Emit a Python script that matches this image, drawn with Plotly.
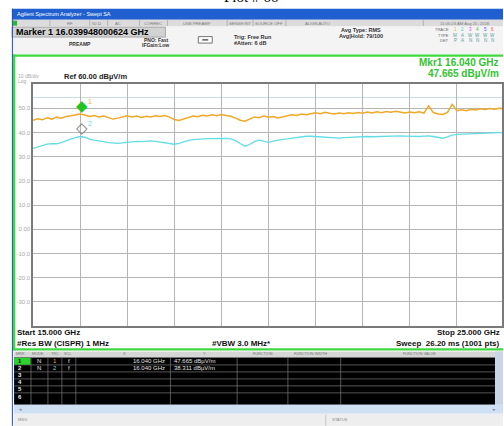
import plotly.graph_objects as go

# ---------------- data ----------------
freq_ghz = [15.0, 15.1, 15.2, 15.3, 15.4, 15.5, 15.6, 15.7, 15.8, 15.9,
            16.0, 16.1, 16.2, 16.3, 16.4, 16.5, 16.6, 16.7, 16.8, 16.9,
            17.0, 17.1, 17.2, 17.3, 17.4, 17.5, 17.6, 17.7, 17.8, 17.9,
            18.0, 18.1, 18.2, 18.3, 18.4, 18.5, 18.6, 18.7, 18.8, 18.9,
            19.0, 19.1, 19.2, 19.3, 19.4, 19.5, 19.6, 19.7, 19.8, 19.9,
            20.0, 20.1, 20.2, 20.3, 20.4, 20.5, 20.6, 20.7, 20.8, 20.9,
            21.0, 21.1, 21.2, 21.3, 21.4, 21.5, 21.6, 21.7, 21.8, 21.9,
            22.0, 22.1, 22.2, 22.3, 22.4, 22.5, 22.6, 22.7, 22.8, 22.9,
            23.0, 23.1, 23.2, 23.3, 23.4, 23.5, 23.6, 23.7, 23.8, 23.9,
            24.0, 24.1, 24.2, 24.3, 24.4, 24.5, 24.6, 24.7, 24.8, 24.9, 25.0]

trace1_peak = [45.0, 45.6, 45.2, 46.0, 45.5, 46.3, 45.9, 46.6, 46.9, 47.3,
               47.6, 47.2, 46.6, 47.0, 46.4, 46.8, 46.1, 45.5, 45.9, 46.5,
               46.9, 46.4, 46.8, 46.2, 46.7, 46.4, 46.9, 46.6, 47.0, 46.3,
               45.3, 44.9, 45.6, 46.4, 46.8, 46.5, 47.1, 46.8, 47.3, 46.9,
               47.4, 47.0, 46.7, 45.9, 45.0, 44.6, 45.5, 46.4, 46.1, 46.8,
               46.3, 46.6, 46.0, 46.5, 46.9, 47.3, 47.0, 47.6, 47.3, 47.8,
               48.1, 47.7, 48.3, 47.9, 47.6, 48.0, 47.7, 48.1, 47.8, 48.2,
               47.9, 48.4, 48.0, 48.5, 48.1, 48.6, 48.3, 48.7, 48.4, 48.0,
               48.4, 48.1, 48.5, 48.0, 51.0, 48.2, 47.6, 47.4, 48.3, 51.6,
               49.0, 49.4, 49.0, 49.6, 49.3, 49.8, 49.5, 49.9, 49.6, 50.0, 49.7]

trace2_avg = [33.4, 34.0, 34.6, 35.2, 35.4, 35.3, 35.8, 36.6, 37.2, 37.8,
              38.3, 38.0, 37.2, 36.8, 36.6, 36.2, 35.8, 35.6, 35.5, 35.7,
              36.0, 36.2, 36.3, 36.2, 36.4, 36.5, 36.3, 36.0, 35.6, 35.2,
              35.1, 35.5, 36.2, 36.7, 37.0, 37.2, 37.3, 37.4, 37.4, 37.5,
              37.6, 37.5, 37.3, 36.6, 35.4, 34.3, 35.0, 36.2, 36.8, 36.3,
              35.9, 36.4, 36.9, 37.1, 37.3, 37.6, 37.9, 38.2, 38.4, 38.4,
              38.3, 38.0, 37.8, 37.7, 37.6, 37.6, 37.8, 37.9, 38.1, 38.3,
              38.4, 38.3, 38.2, 38.3, 38.4, 38.5, 38.6, 38.7, 38.6, 38.5,
              38.4, 38.2, 38.3, 38.5, 38.6, 38.3, 37.9, 37.6, 38.2, 38.9,
              39.2, 39.3, 39.4, 39.5, 39.5, 39.6, 39.7, 39.7, 39.8, 39.9, 39.9]

marker_ids = ["1", "2"]
marker_freq_ghz = [16.040, 16.040]
marker_level = [47.665, 38.311]

y_tick_vals = [50, 40, 30, 20, 10, 0, -10, -20, -30]
y_tick_text = ["50.0", "40.0", "30.0", "20.0", "10.0", "0.00", "-10.0", "-20.0", "-30.0"]
x_grid_vals = [16, 17, 18, 19, 20, 21, 22, 23, 24]
display_line_db = 54.4

table_rows = ["1", "2", "3", "4", "5"]
table_mode = ["N", "N", "", "", ""]
table_trc = ["1", "2", "", "", ""]
table_scl = ["f", "f", "", "", ""]
table_x = ["16.040 GHz", "16.040 GHz", "", "", ""]
table_y = ["47.665 dBµV/m", "38.311 dBµV/m", "", "", ""]

# ---------------- geometry helpers ----------------
W, H = 504, 426
L, R, T, B = 33, 0, 83.5, 100
PW = W - L - R
PH = H - T - B
FONT = "Liberation Sans, Arial, sans-serif"

ORANGE = "#f0a828"
CYAN = "#62dde6"
GREEN = "#3fd93f"


def px(x):
    return (x - L) / PW


def py(y):
    return 1 - (y - T) / PH


shapes = []
annotations = []


def rect(x0, y0, x1, y1, fill, line=None, lw=0):
    shapes.append(dict(type="rect", xref="paper", yref="paper",
                       x0=px(x0), x1=px(x1), y0=py(y1), y1=py(y0),
                       fillcolor=fill, line=dict(color=line or fill, width=lw),
                       layer="above"))


def hline(x0, x1, y, color, w=1):
    shapes.append(dict(type="line", xref="paper", yref="paper",
                       x0=px(x0), x1=px(x1), y0=py(y), y1=py(y),
                       line=dict(color=color, width=w), layer="above"))


def vline(x, y0, y1, color, w=1):
    shapes.append(dict(type="line", xref="paper", yref="paper",
                       x0=px(x), x1=px(x), y0=py(y0), y1=py(y1),
                       line=dict(color=color, width=w), layer="above"))


def text(t, x, y, size=7, color="#000000", bold=False, xanchor="left",
         yanchor="middle", family=FONT):
    if bold:
        t = "<b>" + t + "</b>"
    annotations.append(dict(text=t, xref="paper", yref="paper", x=px(x), y=py(y),
                            xanchor=xanchor, yanchor=yanchor, showarrow=False,
                            font=dict(size=size, color=color, family=family)))


# ---------------- figure ----------------
fig = go.Figure()
fig.add_trace(go.Scatter(x=freq_ghz, y=trace2_avg, mode="lines",
                         line=dict(color=CYAN, width=1.3), hoverinfo="skip"))
fig.add_trace(go.Scatter(x=freq_ghz, y=trace1_peak, mode="lines",
                         line=dict(color=ORANGE, width=1.5), hoverinfo="skip"))

# display line
fig.add_shape(type="line", xref="x", yref="y", x0=freq_ghz[0], x1=freq_ghz[-1],
              y0=display_line_db, y1=display_line_db,
              line=dict(color="#c8dde0", width=1), layer="below")

# markers (diamond drawn above the trace point, like the analyzer)
fig.add_annotation(x=marker_freq_ghz[0], y=marker_level[0], xref="x", yref="y",
                   text="◆", showarrow=False, yanchor="bottom", yshift=-3,
                   font=dict(size=15, color="#22c322", family="DejaVu Sans"))
fig.add_annotation(x=marker_freq_ghz[1], y=marker_level[1], xref="x", yref="y",
                   text="◇", showarrow=False, yanchor="bottom", yshift=-3,
                   font=dict(size=15, color="#808080", family="DejaVu Sans"))
fig.add_annotation(x=marker_freq_ghz[0], y=marker_level[0], xref="x", yref="y",
                   text=marker_ids[0], showarrow=False, xanchor="left", yanchor="bottom",
                   xshift=4, yshift=7, font=dict(size=7, color=ORANGE, family=FONT))
fig.add_annotation(x=marker_freq_ghz[1], y=marker_level[1], xref="x", yref="y",
                   text=marker_ids[1], showarrow=False, xanchor="left", yanchor="bottom",
                   xshift=4, yshift=7, font=dict(size=7, color=CYAN, family=FONT))

# ---------- chrome ----------
# cropped page title
text("Plot # 66", 252, 6, size=15, color="#000000", xanchor="center", yanchor="bottom",
     family="Liberation Serif, Times New Roman, serif")

# title bar
rect(12, 8, 505, 19, "#1f5fd0")
text("Agilent Spectrum Analyzer - Swept SA", 15, 13.5, size=5.5, color="#ffffff")
# menu strip
rect(12, 19, 505, 26, "#dcdcdc")
rect(12.5, 20, 17, 25, "#2cb82c")
for sx in [50, 90, 108, 140, 168, 228, 254, 287, 425]:
    vline(sx, 19.5, 25.5, "#a8a8a8", 0.8)
for t_, x_ in [("RF", 70), ("50 Ω", 97), ("AC", 118), ("CORREC", 154),
               ("USB PREAMP", 198), ("SENSE:INT", 241), ("SOURCE OFF", 270),
               ("ALIGN AUTO", 319), ("11:05:23 AM Aug 20, 2018", 467)]:
    text(t_, x_, 22.5, size=4.2, color="#7a7a7a", xanchor="center")

# settings panel
rect(12, 26, 505, 54, "#f4f4f4")
rect(12, 26.5, 166, 36.5, "#d2d2d2", "#9a9a9a", 0.8)
text("Marker 1 16.039948000624 GHz", 14, 31.7, size=9, bold=True)
text("PREAMP", 80, 43, size=5, bold=True, color="#333333", xanchor="center")
text("PNO: Fast", 172, 39, size=5, bold=True, color="#333333", xanchor="right")
text("IFGain:Low", 172, 44, size=5, bold=True, color="#333333", xanchor="right")
rect(199, 36, 213, 42.5, "#ffffff", "#555555", 0.8)
hline(203, 209, 39.3, "#333333", 1.2)
text("Trig: Free Run", 233, 36.5, size=5.5, bold=True, color="#333333")
text("#Atten: 6 dB", 233, 42, size=5.5, bold=True, color="#333333")
text("Avg Type: RMS", 362, 29.5, size=5.5, bold=True, color="#333333", xanchor="center")
text("Avg|Hold: 79/100", 362, 35, size=5.5, bold=True, color="#333333", xanchor="center")
text("TRACE", 453, 29, size=4, color="#666666", xanchor="right")
text("TYPE", 453, 34.5, size=4, color="#666666", xanchor="right")
text("DET", 453, 40, size=4, color="#666666", xanchor="right")
trace_cols = ["#e8b020", "#40c8d8", "#e040e0", "#40c040", "#4060f0", "#f05050"]
for i, c in enumerate(trace_cols):
    xx = 457 + i * 7.5
    text(str(i + 1), xx, 29, size=4.5, color=c, xanchor="center")
    text(["M", "A", "W", "W", "W", "W"][i], xx, 34.5, size=4.5, color="#58a0a0", xanchor="center")
    text(["P", "A", "N", "N", "N", "N"][i], xx, 40, size=4.5, color="#58a0a0", xanchor="center")

# green frame of the graph panel
hline(12, 505, 55, GREEN, 2.2)
hline(12, 505, 349.5, GREEN, 2.2)
vline(14, 54, 350.5, GREEN, 2.5)
vline(12.3, 8, 426, "#1c4fb8", 1)

# marker readout
text("Mkr1 16.040 GHz", 503, 62, size=10, color="#33c233", bold=True, xanchor="right")
text("47.665 dBµV/m", 503, 73, size=10, color="#33c233", bold=True, xanchor="right")
text("10 dB/div", 16, 75.5, size=5, color="#a8a8a8")
text("Log", 16, 80.5, size=5, color="#a8a8a8")
text("Ref 60.00 dBµV/m", 62, 76, size=7.5, bold=True, color="#222222")

# bottom annotations
text("Start 15.000 GHz", 15, 333, size=8, bold=True, color="#111111")
text("#Res BW (CISPR) 1 MHz", 15, 344, size=8, bold=True, color="#111111")
text("#VBW 3.0 MHz*", 242, 344, size=8, bold=True, color="#111111", xanchor="center")
text("Stop 25.000 GHz", 504, 333, size=8, bold=True, color="#111111", xanchor="right")
text("Sweep  26.20 ms (1001 pts)", 504, 344, size=8, bold=True, color="#111111", xanchor="right")

# marker table
rect(14, 351.5, 505, 357.5, "#d6d6d6")
for t_, x_ in [("MKR", 20), ("MODE", 38), ("TRC", 55), ("SCL", 68), ("X", 125), ("Y", 205),
               ("FUNCTION", 264), ("FUNCTION WIDTH", 312), ("FUNCTION VALUE", 421)]:
    text(t_, x_, 354.5, size=3.8, color="#777777", xanchor="center")
rect(14, 357.5, 497, 405, "#000000")
rect(497, 351.5, 505, 405, "#c8d4e8")
row_y = [361.5, 368.5, 375.5, 382.5, 389.5]
for ry in row_y:
    hline(14, 497, ry + 3.5, "#7a7a7a", 0.7)
for cx in [31, 48, 62, 76, 171, 238, 289, 342]:
    vline(cx, 357.5, 405, "#7a7a7a", 0.7)
rect(14, 357.8, 30.5, 364.8, "#2ed12e")
for i, ry in enumerate(row_y):
    text(table_rows[i], 20, ry, size=6, bold=True, color="#000000" if i == 0 else "#e8e8e8",
         xanchor="center")
    text(table_mode[i], 39, ry, size=6, color="#e0e0e0", xanchor="center")
    text(table_trc[i], 55, ry, size=6, color=[ORANGE, CYAN, "#ffffff", "#ffffff", "#ffffff"][i],
         xanchor="center")
    text(table_scl[i], 69, ry, size=6, color="#e0e0e0", xanchor="center")
    text(table_x[i], 168, ry, size=6, color="#e0e0e0", xanchor="right")
    text(table_y[i], 173, ry, size=6, color="#e0e0e0")
text("6", 20, 397, size=6, bold=True, color="#e8e8e8", xanchor="center")
# scroll bar + status
rect(14, 405, 505, 414, "#cfe0f4")
text("◂", 17, 409.5, size=5, color="#888888")
text("▸", 500, 409.5, size=5, color="#888888", xanchor="right")
rect(14, 414, 505, 426, "#eeeeee")
vline(327, 415, 426, "#bbbbbb", 0.8)
text("MSG", 16, 420, size=4, color="#888888")
text("STATUS", 331, 420, size=4, color="#888888")

fig.update_layout(
    width=W, height=H, autosize=False,
    margin=dict(l=L, r=R, t=T, b=B, pad=0),
    paper_bgcolor="#ffffff", plot_bgcolor="#ffffff",
    showlegend=False,
    shapes=list(fig.layout.shapes) + shapes,
    annotations=list(fig.layout.annotations) + annotations,
    xaxis=dict(range=[15, 15 + PW / 47.3], tickvals=x_grid_vals, showticklabels=False,
               ticks="", showgrid=True, gridcolor="#b5b5b5", gridwidth=1,
               zeroline=False, showline=True, linecolor="#7a7a7a", linewidth=1.6,
               mirror=True, fixedrange=True),
    yaxis=dict(range=[-40, 60], tickvals=y_tick_vals, ticktext=y_tick_text,
               showgrid=True, gridcolor="#b5b5b5", gridwidth=1, ticks="",
               tickfont=dict(size=6, color="#a8a8a8", family=FONT),
               zeroline=False, showline=True, linecolor="#7a7a7a", linewidth=1.6,
               mirror=True, fixedrange=True),
)

fig.write_html("out.html",
               config={"displayModeBar": False, "staticPlot": True},
               post_script="document.body.style.margin='0';"
                           "document.body.style.overflow='hidden';")
